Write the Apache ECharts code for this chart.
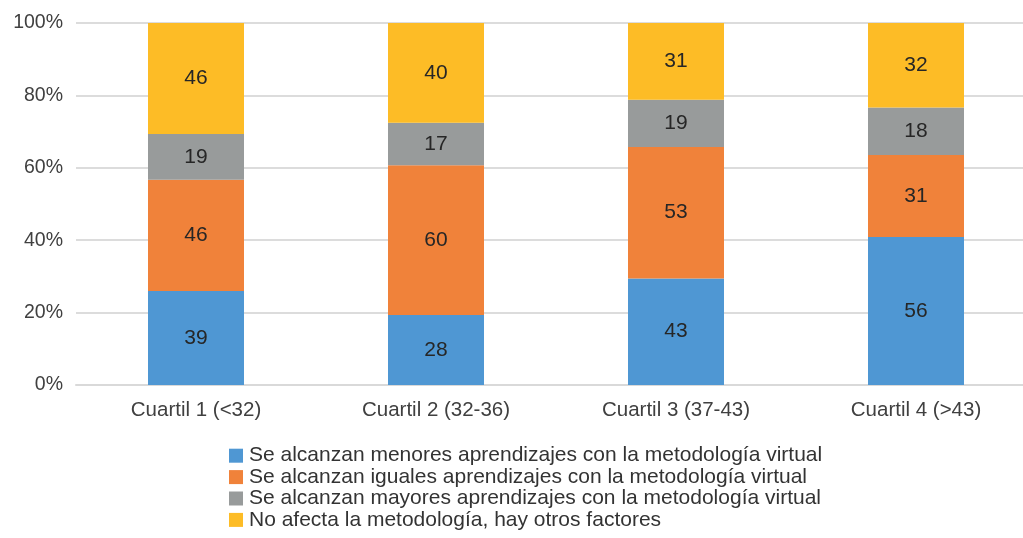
<!DOCTYPE html>
<html style="height:100%;">
<head>
    <meta charset="utf-8">
    <script src="https://cdn.jsdelivr.net/npm/echarts@6/dist/echarts.min.js"></script>
</head>
<body style="height:100%;margin:0;background:#fff;overflow:hidden;">
    <div id="main" style="width:1040px;height:560px;"></div>
<script>
    // categorías (cuartiles)
    var categories = ['Cuartil 1 (<32)', 'Cuartil 2 (32-36)', 'Cuartil 3 (37-43)', 'Cuartil 4 (>43)'];

    // nombres de las series
    var seriesNames = [
        'Se alcanzan menores aprendizajes con la metodología virtual',
        'Se alcanzan iguales aprendizajes con la metodología virtual',
        'Se alcanzan mayores aprendizajes con la metodología virtual',
        'No afecta la metodología, hay otros factores'
    ];

    // conteos por cuartil
    var menores = [39, 28, 43, 56];
    var iguales = [46, 60, 53, 31];
    var mayores = [19, 17, 19, 18];
    var otros   = [46, 40, 31, 32];

    var yTicks = [0, 20, 40, 60, 80, 100];

    var colors = ['#4f97d3', '#f0823a', '#989b9b', '#fdbc26'];

    var counts = [menores, iguales, mayores, otros];
    var totals = categories.map(function (c, i) {
        return menores[i] + iguales[i] + mayores[i] + otros[i];
    });

    var series = counts.map(function (arr, s) {
        return {
            name: seriesNames[s],
            type: 'bar',
            stack: 'total',
            barWidth: '40%',
            itemStyle: {color: colors[s]},
            label: {
                show: true,
                position: 'inside',
                color: '#262626',
                fontSize: 21,
                fontFamily: 'Liberation Sans',
                formatter: function (p) { return arr[p.dataIndex]; }
            },
            data: arr.map(function (v, i) { return v / totals[i] * 100; })
        };
    });

    var myChart = echarts.init(document.getElementById('main'));
    var option = {
        animation: false,
        grid: {left: 76, top: 23, width: 960, height: 362},
        legend: {
            orient: 'vertical',
            left: 229,
            top: 445,
            height: 100,
            padding: 0,
            itemWidth: 14,
            itemHeight: 14,
            itemGap: 0,
            icon: 'rect',
            textStyle: {
                fontSize: 21,
                lineHeight: 21.4,
                color: '#333',
                fontFamily: 'Liberation Sans',
                padding: [0, 0, 0, 1]
            },
            data: seriesNames
        },
        xAxis: {
            type: 'category',
            data: categories,
            axisLine: {lineStyle: {color: '#d9d9d9', width: 2}},
            axisTick: {show: false},
            axisLabel: {
                fontSize: 20.5,
                color: '#404040',
                fontFamily: 'Liberation Sans',
                margin: 15
            }
        },
        yAxis: {
            type: 'value',
            min: yTicks[0],
            max: yTicks[yTicks.length - 1],
            interval: 20,
            axisLine: {show: false},
            axisTick: {show: false},
            splitLine: {lineStyle: {color: '#dcdcdc', width: 2}},
            axisLabel: {
                formatter: '{value}%',
                fontSize: 19.5,
                color: '#404040',
                fontFamily: 'Liberation Sans',
                margin: 13
            }
        },
        series: series
    };

    myChart.setOption(option);
</script>
</body>
</html>
